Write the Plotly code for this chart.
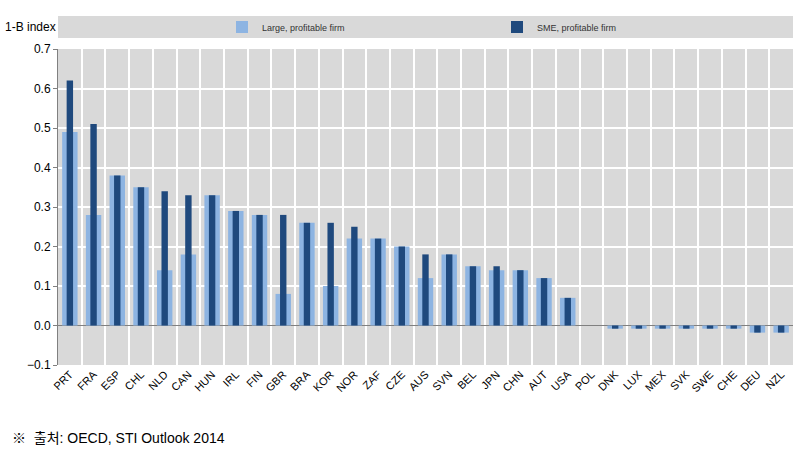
import plotly.graph_objects as go

categories = ["PRT","FRA","ESP","CHL","NLD","CAN","HUN","IRL","FIN","GBR","BRA","KOR","NOR","ZAF","CZE",
              "AUS","SVN","BEL","JPN","CHN","AUT","USA","POL","DNK","LUX","MEX","SVK","SWE","CHE","DEU","NZL"]
large = [0.49,0.28,0.38,0.35,0.14,0.18,0.33,0.29,0.28,0.08,0.26,0.10,0.22,0.22,0.20,
         0.12,0.18,0.15,0.14,0.14,0.12,0.07,0.0,-0.008,-0.008,-0.008,-0.008,-0.008,-0.008,-0.018,-0.018]
sme = [0.62,0.51,0.38,0.35,0.34,0.33,0.33,0.29,0.28,0.28,0.26,0.26,0.25,0.22,0.20,
       0.18,0.18,0.15,0.15,0.14,0.12,0.07,0.0,-0.008,-0.008,-0.008,-0.008,-0.008,-0.008,-0.018,-0.018]
yticks = [-0.1,0.0,0.1,0.2,0.3,0.4,0.5,0.6,0.7]

FONT = "Liberation Sans, Arial, Noto Sans CJK KR, sans-serif"

fig = go.Figure()
fig.add_trace(go.Bar(x=categories, y=large, name="Large, profitable firm",
                     marker=dict(color="#8db4e2", line=dict(width=0)), width=0.65))
fig.add_trace(go.Bar(x=categories, y=sme, name="SME, profitable firm",
                     marker=dict(color="#1f497d", line=dict(width=0)), width=0.27))

fig.update_layout(
    width=812, height=453,
    margin=dict(l=58, r=19, t=49, b=88),
    barmode="overlay",
    paper_bgcolor="white",
    plot_bgcolor="#d9d9d9",
    font=dict(family=FONT, color="black"),
    showlegend=True,
    legend=dict(orientation="h", x=(222-58)/735, y=(365-27)/316, xanchor="left", yanchor="middle",
                bgcolor="rgba(0,0,0,0)", font=dict(size=9, color="#333"),
                entrywidth=230, entrywidthmode="pixels", itemwidth=30,
                traceorder="normal"),
    xaxis=dict(type="category", tickson="boundaries", showgrid=True, gridcolor="white", gridwidth=1.5,
               tickangle=-45, tickfont=dict(size=11), ticks="", showline=False),
    yaxis=dict(range=[-0.1, 0.7], tickvals=yticks, tickformat=".1f", showgrid=True,
               gridcolor="white", gridwidth=1.5, zeroline=True, zerolinecolor="#808080", zerolinewidth=1,
               showline=True, linecolor="#808080", linewidth=1, ticks="outside", ticklen=4,
               tickcolor="#808080", tickfont=dict(size=12)),
    shapes=[dict(type="rect", xref="paper", yref="paper", x0=0, x1=1.0,
                 y0=(365-38)/316, y1=(365-16)/316, fillcolor="#d9d9d9", line=dict(width=0), layer="below")],
    annotations=[
        dict(text="1-B index", xref="paper", yref="paper", x=(3-58)/735, y=(365-27)/316,
             xanchor="left", yanchor="middle", showarrow=False, font=dict(size=12)),
        dict(text="※  출처: OECD, STI Outlook 2014", xref="paper", yref="paper", x=(10-58)/735,
             y=(365-438)/316, xanchor="left", yanchor="middle", showarrow=False, font=dict(size=14)),
    ],
)

fig.write_html("out.html")
